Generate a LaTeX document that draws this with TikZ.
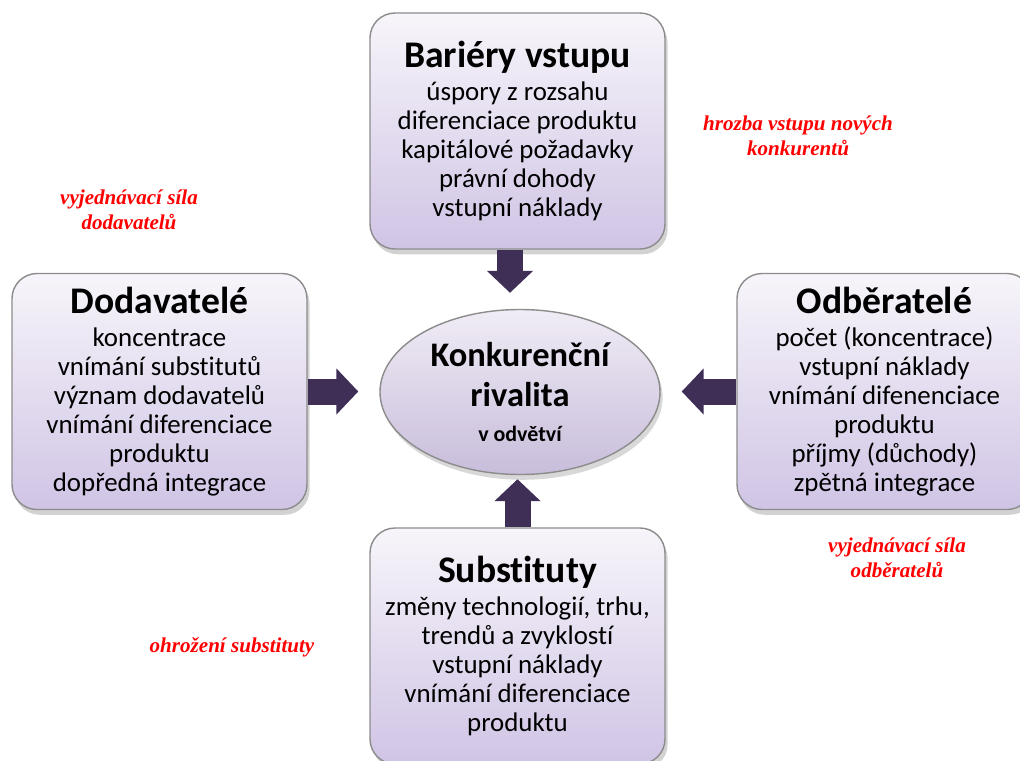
\documentclass[tikz,border=0pt]{standalone}
\usepackage{fontspec}
\setmainfont{Carlito}[Ligatures=CommonOff]
\newfontfamily\redfont{Liberation Serif}
\usetikzlibrary{shapes.geometric, shadows, arrows.meta}

\definecolor{boxtop}{HTML}{F7F5FA}
\definecolor{boxbottom}{HTML}{D0C4E5}
\definecolor{ovaltop}{HTML}{F0ECF5}
\definecolor{ovalbottom}{HTML}{C8BDDB}
\definecolor{arrowpurple}{HTML}{3F2F57}
\definecolor{framegray}{HTML}{8C8C8C}

\tikzset{
  forcebox/.style={rectangle, rounded corners=0.5cm, draw=framegray, line width=0.8pt,
    top color=boxtop, bottom color=boxbottom, minimum width=5.9cm, minimum height=4.72cm,
    align=center, inner sep=0pt, font=\fontsize{15.3}{16.5}\selectfont,
    drop shadow={opacity=0.35, shadow xshift=1.5pt, shadow yshift=-3pt}},
  rivalry/.style={ellipse, draw=framegray, line width=0.8pt, top color=ovaltop,
    bottom color=ovalbottom, minimum width=5.6cm, minimum height=3.3cm, inner sep=0pt,
    align=center, font=\fontsize{19.6}{23}\selectfont\bfseries,
    drop shadow={opacity=0.3, shadow xshift=1.5pt, shadow yshift=-3pt}},
  forcearrow/.style={draw=arrowpurple, line width=0.52cm,
    -{Triangle[width=0.9cm, length=0.44cm]}},
  forcelabel/.style={text=red, align=center, font=\redfont\bfseries\itshape\fontsize{12}{14}\selectfont},
}
\newcommand{\forcetitle}[1]{{\fontsize{21.4}{23}\selectfont\bfseries #1}\\[2pt]}

\begin{document}
\begin{tikzpicture}
\useasboundingbox (0,0) rectangle (20.4,-15.2);
\fill[white] (0,0) rectangle (20.4,-15.2);

\node[forcebox] (barriers) at (10.35,-2.62) {\forcetitle{Bariéry vstupu}úspory z rozsahu\\ diferenciace produktu\\ kapitálové požadavky\\ právní dohody\\ vstupní náklady};
\node[forcebox] (suppliers) at (3.19,-7.83) {\forcetitle{Dodavatelé}koncentrace\\ vnímání substitutů\\ význam dodavatelů\\ vnímání diferenciace\\ produktu\\ dopředná integrace};
\node[forcebox] (buyers) at (17.69,-7.83) {\forcetitle{Odběratelé}počet (koncentrace)\\ vstupní náklady\\ vnímání difenenciace\\ produktu\\ příjmy (důchody)\\ zpětná integrace};
\node[forcebox] (substitutes) at (10.35,-12.92) {\forcetitle{Substituty}změny technologií, trhu,\\ trendů a zvyklostí\\ vstupní náklady\\ vnímání diferenciace\\ produktu};

\node[rivalry] (rival) at (10.4,-7.84) {Konkurenční\\ rivalita\\[-3pt] \fontsize{12.5}{15}\selectfont v odvětví};

\draw[forcearrow, shorten >=0.32cm] ([xshift=-0.15cm]barriers.south) -- ([xshift=-0.15cm]barriers.south |- rival.north);
\draw[forcearrow, shorten >=0.42cm] (suppliers.east) -- (suppliers.east -| rival.west);
\draw[forcearrow, shorten >=0.42cm] (buyers.west) -- (buyers.west -| rival.east);
\draw[forcearrow, shorten >=0.08cm] (substitutes.north) -- (substitutes.north |- rival.south);

\node[forcelabel] (entrants) at (15.96,-2.72) {hrozba vstupu nových\\ konkurentů};
\node[forcelabel] (supplierpower) at (2.58,-4.2) {vyjednávací síla\\ dodavatelů};
\node[forcelabel] (buyerpower) at (17.94,-11.16) {vyjednávací síla\\ odběratelů};
\node[forcelabel] (threat) at (4.64,-12.94) {ohrožení substituty};

\end{tikzpicture}
\end{document}
